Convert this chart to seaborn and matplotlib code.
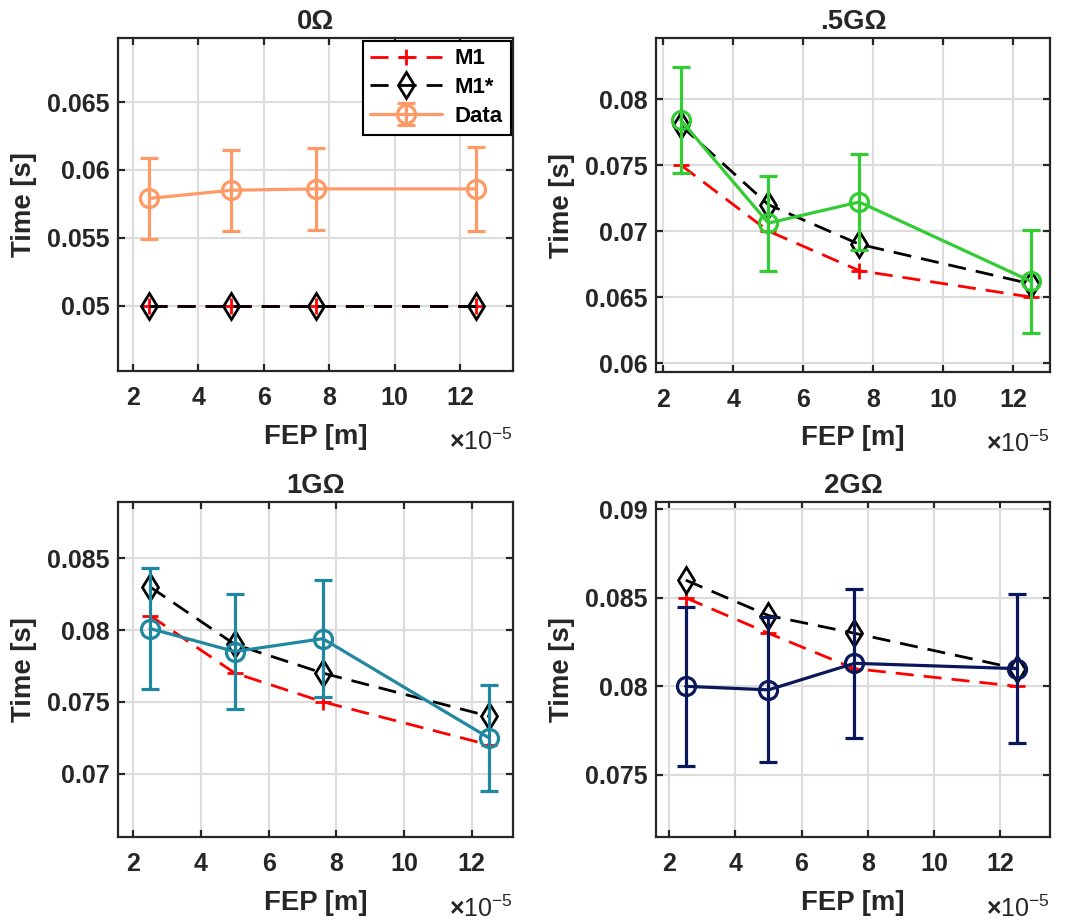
import numpy as np
import pandas as pd
import matplotlib
matplotlib.use("Agg")
import matplotlib.pyplot as plt
import seaborn as sns
from matplotlib.ticker import FuncFormatter, MultipleLocator

# ---------------- data ----------------
fep = [2.5, 5.0, 7.6, 12.5]          # FEP [m] x 1e-5
titles = ["0Ω", ".5GΩ", "1GΩ", "2GΩ"]

m1_0 = [0.050, 0.050, 0.050, 0.050]
m1s_0 = [0.050, 0.050, 0.050, 0.050]
data_0 = [0.0579, 0.0585, 0.0586, 0.0586]
err_0 = [0.0030, 0.0030, 0.0030, 0.0031]

m1_05 = [0.075, 0.070, 0.067, 0.065]
m1s_05 = [0.078, 0.072, 0.069, 0.066]
data_05 = [0.0784, 0.0706, 0.0722, 0.0662]
err_05 = [0.0040, 0.0036, 0.0036, 0.0039]

m1_1 = [0.081, 0.077, 0.075, 0.072]
m1s_1 = [0.083, 0.079, 0.077, 0.074]
data_1 = [0.0801, 0.0785, 0.0794, 0.0725]
err_1 = [0.0042, 0.0040, 0.0041, 0.0037]

m1_2 = [0.085, 0.083, 0.081, 0.080]
m1s_2 = [0.086, 0.084, 0.083, 0.081]
data_2 = [0.0800, 0.0798, 0.0813, 0.0810]
err_2 = [0.0045, 0.0041, 0.0042, 0.0042]

data_colors = ["#FF9966", "#33CC33", "#1F88A0", "#0A175A"]

m1_all = [m1_0, m1_05, m1_1, m1_2]
m1s_all = [m1s_0, m1s_05, m1s_1, m1s_2]
data_all = [data_0, data_05, data_1, data_2]
err_all = [err_0, err_05, err_1, err_2]

xlims = [(1.54, 13.62), (1.79, 13.05), (1.55, 13.22), (1.60, 13.51)]
ylims = [(0.0452, 0.0697), (0.0593, 0.0846), (0.0656, 0.0889), (0.0715, 0.0904)]

# ---------------- style ----------------
sns.set_theme(style="whitegrid")
plt.rcParams.update({
    "font.family": ["Liberation Sans", "DejaVu Sans"],
    "font.weight": "bold",
    "axes.labelweight": "bold",
    "axes.titleweight": "bold",
    "axes.edgecolor": "#262626",
    "axes.linewidth": 1.6,
    "grid.color": "#dcdcdc",
    "grid.linewidth": 1.5,
    "xtick.direction": "in",
    "ytick.direction": "in",
    "xtick.top": True,
    "ytick.right": True,
    "xtick.bottom": True,
    "ytick.left": True,
    "xtick.major.size": 5,
    "ytick.major.size": 5,
    "xtick.major.width": 1.6,
    "ytick.major.width": 1.6,
    "xtick.color": "#262626",
    "ytick.color": "#262626",
    "xtick.labelcolor": "#262626",
    "ytick.labelcolor": "#262626",
    "axes.labelcolor": "#262626",
    "text.color": "#262626",
    "mathtext.fontset": "custom",
    "mathtext.rm": "Liberation Sans",
})

W, H = 1067, 922
fig = plt.figure(figsize=(W / 100, H / 100), dpi=100)
boxes = [(118, 38.3, 513, 370.7), (656, 38.3, 1050, 372.3),
         (118, 502.3, 513, 836.7), (656, 502.3, 1050, 836.7)]

dash = (0, (6.5, 3.6))
for i, (l, t, r, b) in enumerate(boxes):
    ax = fig.add_axes([l / W, 1 - b / H, (r - l) / W, (b - t) / H])
    ax.set_facecolor("white")
    sns.lineplot(x=fep, y=m1_all[i], ax=ax, color="red", lw=2, linestyle=dash,
                 marker="+", ms=11, mew=2, mec="red", label="M1", sort=False,
                 zorder=3)
    sns.lineplot(x=fep, y=m1s_all[i], ax=ax, color="black", lw=2, linestyle=dash,
                 marker="d", ms=13, mew=2, mec="black", mfc="none", label="M1*",
                 sort=False, zorder=3)
    ax.errorbar(fep, data_all[i], yerr=err_all[i], fmt="-o", color=data_colors[i],
                lw=2.3, ms=13, mfc="none", mew=2.3, capsize=6.5, capthick=2.3,
                elinewidth=2.3, label="Data", zorder=4)
    ax.set_xlim(*xlims[i])
    ax.set_ylim(*ylims[i])
    ax.xaxis.set_major_locator(MultipleLocator(2))
    ax.yaxis.set_major_locator(MultipleLocator(0.005))
    ax.yaxis.set_major_formatter(FuncFormatter(lambda v, p: f"{v:g}"))
    ax.tick_params(axis="both", labelsize=18)
    ax.tick_params(axis="x", pad=11)
    ax.tick_params(axis="y", pad=6)
    ax.grid(True, which="major")
    for s in ax.spines.values():
        s.set_visible(True)
        s.set_color("#262626")
        s.set_linewidth(1.6)
    ax.set_xlabel("FEP [m]", fontsize=19.8, labelpad=10)
    ax.set_ylabel("Time [s]", fontsize=19.8, labelpad=7)
    ax.set_title(titles[i], fontsize=19.8, pad=7)
    ax.text(1.0, -0.215, r"$\times\mathregular{10^{-5}}$", transform=ax.transAxes,
            ha="right", va="center", fontsize=18, fontweight="normal")
    if i == 0:
        leg = ax.legend(loc="upper right", fontsize=16, frameon=True, fancybox=False,
                        framealpha=1, edgecolor="black", borderaxespad=0.1,
                        handlelength=3.2, labelspacing=0.35, borderpad=0.35,
                        handletextpad=0.6)
        leg.get_frame().set_linewidth(1.5)
        for txt in leg.get_texts():
            txt.set_color("black")
    else:
        lg = ax.get_legend()
        if lg is not None:
            lg.remove()

fig.savefig("out.png", dpi=100, facecolor="white")
